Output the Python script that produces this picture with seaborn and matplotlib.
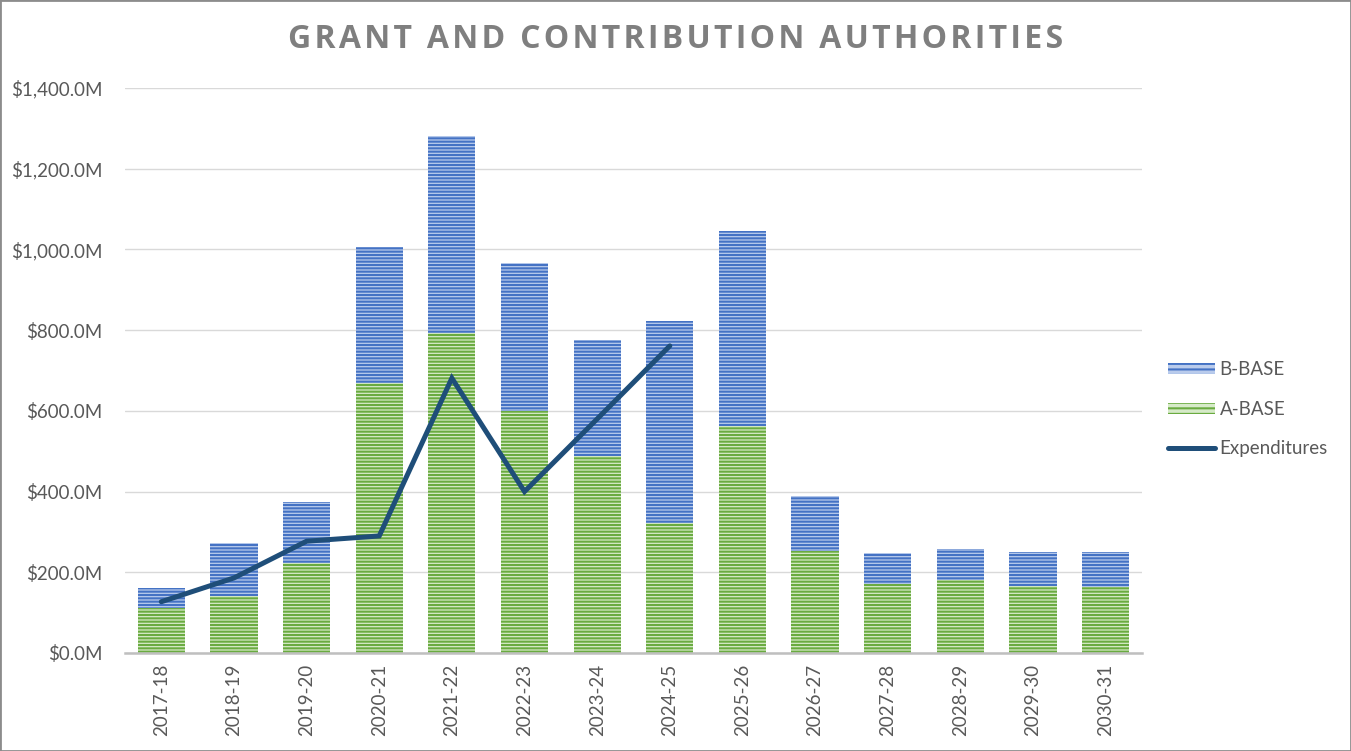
import matplotlib
matplotlib.use("Agg")
import numpy as np
import pandas as pd
import seaborn as sns
from matplotlib import pyplot as plt
from matplotlib import patches as mpatches
from matplotlib.lines import Line2D
from matplotlib.ticker import FuncFormatter

years = ["2017-18", "2018-19", "2019-20", "2020-21", "2021-22", "2022-23", "2023-24",
         "2024-25", "2025-26", "2026-27", "2027-28", "2028-29", "2029-30", "2030-31"]
a_base = [112, 140, 224, 670, 793, 600, 488, 322, 562, 252, 171, 181, 166, 163]
b_base = [48, 132, 151, 335, 489, 366, 288, 500, 483, 137, 76, 77, 84, 87]
expenditures = [127, 186, 277, 290, 681, 400, 580, 761]

tab = pd.DataFrame({"Year": years, "A-BASE": a_base, "B-BASE": b_base})
tab["Total"] = tab["A-BASE"] + tab["B-BASE"]
exp_tab = pd.DataFrame({"Year": years[:len(expenditures)], "Expenditures": expenditures})

sns.set_theme(style="white")
plt.rcParams["font.family"] = ["Lato", "DejaVu Sans"]
plt.rcParams["hatch.linewidth"] = 1.5

blue_face, blue_line = "#b9cbec", "#4472c4"
green_face, green_line = "#d6eac8", "#6aab40"
exp_color = "#1f4e79"
text_grey = "#595959"

fig = plt.figure(figsize=(13.51, 7.51), dpi=100)
ax = fig.add_axes([0.0925, 0.1305, 0.7528, 0.7523])

# stacked look: total bar first, A-BASE drawn over it
sns.barplot(data=tab, x="Year", y="Total", ax=ax, color=blue_face, width=0.65,
            edgecolor=blue_line, linewidth=0, hatch="-----", saturation=1)
sns.barplot(data=tab, x="Year", y="A-BASE", ax=ax, color=green_face, width=0.65,
            edgecolor=green_line, linewidth=0, hatch="-----", saturation=1)
sns.lineplot(data=exp_tab, x="Year", y="Expenditures", ax=ax, color=exp_color,
             linewidth=3.6, solid_capstyle="round", solid_joinstyle="miter")

ax.set_ylim(0, 1400)
ax.set_xlim(-0.5, len(years) - 0.5)
ax.set_yticks(np.arange(0, 1401, 200))
ax.yaxis.set_major_formatter(FuncFormatter(lambda v, p: f"${v:,.1f}M"))
ax.grid(axis="y", color="#d9d9d9", linewidth=1)
ax.set_axisbelow(True)
for s in ["top", "right", "left"]:
    ax.spines[s].set_visible(False)
ax.spines["bottom"].set_color("#bfbfbf")
ax.spines["bottom"].set_linewidth(1.8)
ax.tick_params(axis="both", length=0, labelsize=13.5, labelcolor=text_grey)
ax.tick_params(axis="y", pad=16)
ax.tick_params(axis="x", pad=8)
plt.setp(ax.get_xticklabels(), rotation=90)
ax.set_xlabel("")
ax.set_ylabel("")

title = "GRANT AND CONTRIBUTION AUTHORITIES"
fig.text(0.5, 0.947, "\u200a".join(title), ha="center", va="center",
         fontsize=23, fontweight="bold", color="#7f7f7f", family=["Open Sans", "DejaVu Sans"])

handles = [mpatches.Patch(facecolor=blue_face, edgecolor=blue_line, hatch="---", linewidth=0),
           mpatches.Patch(facecolor=green_face, edgecolor=green_line, hatch="---", linewidth=0),
           Line2D([], [], color=exp_color, linewidth=3.6, solid_capstyle="round")]
fig.legend(handles, ["B-BASE", "A-BASE", "Expenditures"], loc="center left",
           bbox_to_anchor=(0.852, 0.455), frameon=False, fontsize=13.5,
           labelcolor=text_grey, handlelength=2.5, handleheight=0.55,
           handletextpad=0.25, labelspacing=1.2)

fig.add_artist(mpatches.Rectangle((0, 0), 1, 1, transform=fig.transFigure, fill=False,
                                  edgecolor="#8c8c8c", linewidth=2))
fig.savefig("out.png", dpi=100)
